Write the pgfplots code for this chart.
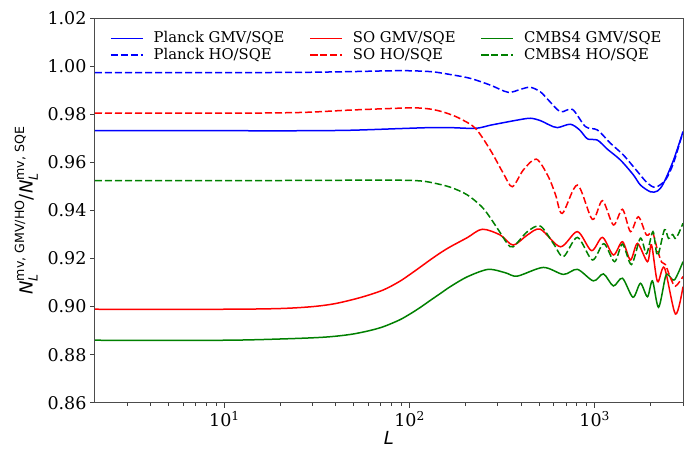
\documentclass[border=0pt]{standalone}
\usepackage{pgfplots}
\pgfplotsset{compat=1.18}
\usepackage{amsmath}
\usepackage{fontspec}
\setmainfont{DejaVu Serif}
\newfontfamily\dvsans{DejaVu Sans}

\definecolor{mplgreen}{RGB}{0,128,0}

\begin{document}
\begin{tikzpicture}
\begin{axis}[
    scale only axis,
    width=588pt, height=384.4pt,
    xmode=log,
    xmin=2, xmax=3000,
    ymin=0.86, ymax=1.02,
    xtick={10,100,1000},
    xticklabels={10\textsuperscript{1},10\textsuperscript{2},10\textsuperscript{3}},
    minor xtick={3,4,5,6,7,8,9,20,30,40,50,60,70,80,90,200,300,400,500,600,700,800,900,2000,3000},
    ytick={0.86,0.88,0.90,0.92,0.94,0.96,0.98,1.00,1.02},
    /pgf/number format/assume math mode=true,
    yticklabel style={/pgf/number format/.cd, fixed, fixed zerofill, precision=2},
    ticklabel style={font=\fontsize{17.5}{17.5}\selectfont},
    tick pos=left,
    tick align=outside,
    major tick length=5pt,
    minor tick length=3pt,
    tick style={black!75, line width=0.8pt},
    axis line style={black!70, line width=1pt},
    xlabel={\dvsans\itshape L},
    xlabel style={font=\fontsize{18}{18}\selectfont, at={(axis description cs:0.5,-0.108)}, anchor=base, inner sep=0pt},
    ylabel={\dvsans $\textit{N}_{\textit{L}}^{\text{mv, GMV/HO}}\text{/}\textit{N}_{\textit{L}}^{\text{mv, SQE}}$},
    ylabel style={font=\fontsize{18}{18}\selectfont, at={(axis description cs:-0.097,0.5)}, anchor=south, inner sep=0pt},
    legend columns=3,
    legend cell align=left,
    legend image code/.code={\draw[mark repeat=2,mark phase=2,#1] plot coordinates {(0pt,0pt) (16pt,0pt) (32pt,0pt)};},
    legend style={draw=none, fill=none,
        at={(rel axis cs:0.0204,0.974)}, anchor=north west,
        font=\fontsize{14.8}{14.8}\selectfont,
        nodes={inner sep=1pt, text height=11pt, text depth=3pt},
        row sep=0.7pt,
        /tikz/every odd column/.append style={column sep=9pt},
        /tikz/every even column/.append style={column sep=24pt}},
]
\coordinate (o) at (rel axis cs:0,0);

% Planck GMV/SQE
\addplot[color=blue, line width=1.5pt, smooth] coordinates {
(2,0.9732) (10,0.9732) (25.7,0.9732) (47.8,0.9734) (89,0.9741) (129,0.9745)
(166,0.9745) (227,0.9742) (273,0.9755) (309,0.9763) (380,0.9776) (449,0.9784)
(509,0.9774) (570,0.9756) (629,0.9745) (739,0.9759) (830,0.9735) (915,0.9698)
(1035,0.9693) (1172,0.9655) (1378,0.9610) (1619,0.9548) (1767,0.9506)
(2000,0.9478) (2184,0.9481) (2353,0.9513) (2667,0.9610) (3000,0.9728)};
\addlegendentry{Planck GMV/SQE}

% SO GMV/SQE
\addplot[color=red, line width=1.5pt, smooth] coordinates {
(2,0.8989) (10,0.8989) (20,0.8992) (30,0.9000) (40,0.9013) (55,0.9039)
(72,0.9069) (88,0.9104) (101,0.9135) (115,0.9166) (129,0.9194) (147,0.9224)
(166,0.9249) (205,0.9287) (247,0.9322) (309,0.9298) (363,0.9256)
(433,0.9298) (509,0.9322) (653,0.9249) (807,0.9312) (961,0.9233) (1102,0.9288)
(1262,0.9215) (1413,0.9270) (1561,0.9194) (1703,0.9263) (1928,0.9187)
(2027,0.9257) (2184,0.9104) (2380,0.9162) (2731,0.8969) (3000,0.9083)};
\addlegendentry{SO GMV/SQE}

% CMBS4 GMV/SQE
\addplot[color=mplgreen, line width=1.5pt, smooth] coordinates {
(2,0.8860) (10,0.8860) (21.6,0.8866) (35,0.8873) (47.8,0.8884) (60,0.8899)
(72,0.8916) (88,0.8944) (101,0.8970) (115,0.8998) (129,0.9025) (147,0.9055)
(166,0.9083) (205,0.9124) (266,0.9155) (329,0.9141) (382,0.9127)
(528,0.9163) (678,0.9134) (807,0.9155) (984,0.9107) (1115,0.9136) (1262,0.9086)
(1413,0.9118) (1610,0.9039) (1767,0.9097) (1928,0.9041) (2051,0.9107)
(2213,0.8997) (2411,0.9124) (2505,0.9131) (2698,0.9111) (3000,0.9187)};
\addlegendentry{CMBS4 GMV/SQE}

% Planck HO/SQE
\addplot[color=blue, line width=1.5pt, smooth, dash pattern=on 7pt off 3pt] coordinates {
(2,0.9974) (10,0.9974) (25.7,0.9975) (47.8,0.9978) (89,0.9982) (130,0.9978)
(166,0.9966) (213,0.9950) (273,0.9922) (341,0.9892) (400,0.9905) (449,0.9913)
(509,0.9894) (562,0.9860) (653,0.9811) (758,0.9821) (892,0.9749) (1035,0.9735)
(1216,0.9680) (1429,0.9631) (1703,0.9562) (1928,0.9514) (2130,0.9497)
(2411,0.9527) (2667,0.9598) (3000,0.9728)};
\addlegendentry{Planck HO/SQE}

% SO HO/SQE
\addplot[color=red, line width=1.5pt, smooth, dash pattern=on 7pt off 3pt] coordinates {
(2,0.9805) (10,0.9805) (25.7,0.9808) (47.8,0.9818) (89,0.9826) (110,0.9827)
(130,0.9822) (147,0.9813) (166,0.9800) (188,0.9782) (227,0.9742) (273,0.9652)
(321,0.9555) (359,0.9499)
(412,0.9569) (484,0.9614) (562,0.9541) (615,0.9465) (669,0.9388) (807,0.9506)
(972,0.9363) (1102,0.9441) (1262,0.9340) (1413,0.9405) (1561,0.9312)
(1722,0.9374) (1905,0.9298) (2051,0.9310) (2184,0.9235) (2300,0.9185)
(2411,0.9175) (2566,0.9120) (2731,0.9085) (3000,0.9125)};
\addlegendentry{SO HO/SQE}

% CMBS4 HO/SQE
\addplot[color=mplgreen, line width=1.5pt, smooth, dash pattern=on 7pt off 3pt] coordinates {
(2,0.9524) (10,0.9524) (47.8,0.9526) (89,0.9526) (115,0.9523) (134,0.9515)
(166,0.9497) (205,0.9465) (250,0.9409) (298,0.9326) (337,0.9263) (363,0.9249)
(433,0.9312)
(509,0.9335) (598,0.9263) (678,0.9208) (807,0.9288) (972,0.9194) (1120,0.9262)
(1280,0.9187) (1413,0.9260) (1580,0.9175) (1767,0.9285) (1905,0.9220)
(2065,0.9312) (2184,0.9212) (2382,0.9320) (2505,0.9284) (2633,0.9300)
(2750,0.9284) (3000,0.9347)};
\addlegendentry{CMBS4 HO/SQE}
\end{axis}
\pgfresetboundingbox
\path[use as bounding box] (o) ++(-95pt,-45.3pt) rectangle ++(693pt,448pt);
\end{tikzpicture}
\end{document}
